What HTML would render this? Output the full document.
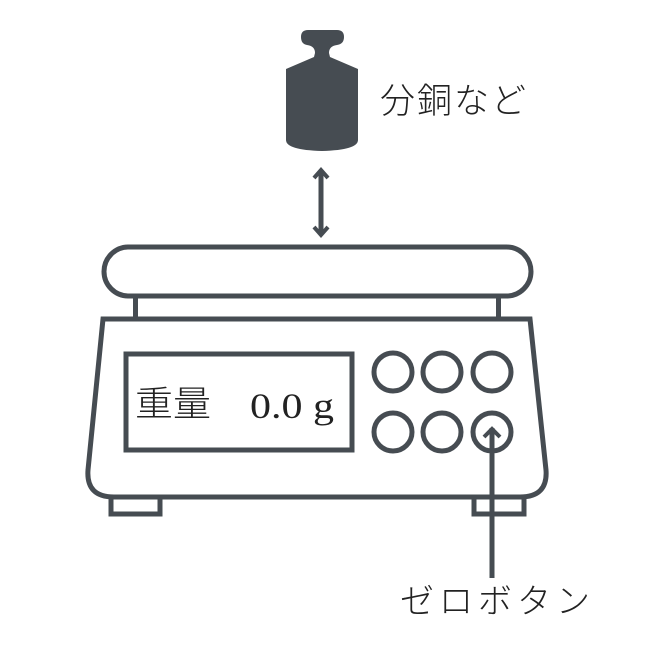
<!DOCTYPE html>
<html><head><meta charset="utf-8"><style>
html,body{margin:0;padding:0;background:#fff;}
svg{display:block}
text{font-family:"Noto Sans CJK JP","Liberation Sans",sans-serif;fill:#222;font-weight:300;}
</style></head><body>
<svg width="650" height="650" viewBox="0 0 650 650" xmlns="http://www.w3.org/2000/svg">
<g fill="#464c52">
<path d="M308 30 H337 Q344 30 344 37 Q344 44 337 45 Q329 46 329 53 L330 57 L358 69 V140 Q358 150 322 151 Q286 150 286 140 V69 L314 57 L315 53 Q315 46 307 45 Q301 44 301 37 Q301 30 308 30 Z"/>
</g>
<g stroke="#464c52" fill="none" stroke-width="5">
<line x1="321" y1="170" x2="321" y2="234"/>
<polyline points="314,178 321,170 328,178" stroke-width="4"/>
<polyline points="314,227 321,235 328,227" stroke-width="4"/>
<rect x="104" y="247" width="427" height="49" rx="24.5"/>
<line x1="135.5" y1="297" x2="135.5" y2="318"/>
<line x1="498.5" y1="297" x2="498.5" y2="318"/>
<path d="M103 319 H530 L546 470 Q548 497 520 497 H114 Q86 497 88 470 Z"/>
<rect x="111" y="497" width="49" height="17"/>
<rect x="474" y="497" width="50" height="17"/>
<rect x="126" y="354" width="226" height="96"/>
<circle cx="393" cy="372" r="19"/>
<circle cx="442" cy="372" r="19"/>
<circle cx="492" cy="372" r="19"/>
<circle cx="393" cy="432" r="19"/>
<circle cx="442" cy="432" r="19"/>
<circle cx="492" cy="432" r="19"/>
<line x1="492" y1="428" x2="492" y2="578"/>
<polyline points="484,437 492,429 500,437" stroke-width="4"/>
</g>
<text x="135" y="416" font-size="35" textLength="76" lengthAdjust="spacingAndGlyphs">重量</text>
<text x="250" y="418" font-size="36" textLength="84" lengthAdjust="spacingAndGlyphs" style="font-family:'Liberation Serif',serif">0.0 g</text>
<text x="380" y="113" font-size="35" textLength="146" lengthAdjust="spacing">分銅など</text>
<text x="400" y="613" font-size="34" textLength="190" lengthAdjust="spacing">ゼロボタン</text>
</svg>
</body></html>
